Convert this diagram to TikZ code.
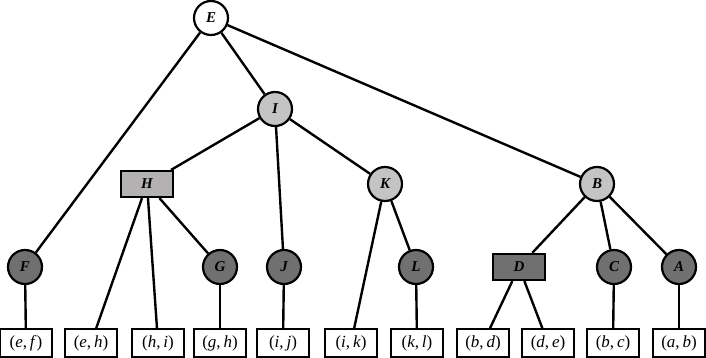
\documentclass[tikz,border=0pt]{standalone}
\usepackage{fontspec}
\setmainfont{Liberation Serif}
\usepackage{tikz}
\definecolor{litegray}{HTML}{C4C4C4}
\definecolor{boxgray}{HTML}{B3B1B1}
\definecolor{darkgray}{HTML}{707070}
\tikzset{
  treenode/.style = {circle,draw,line width=2.2pt,minimum size=34pt,inner sep=0pt,
                     font=\fontsize{15}{17}\selectfont\bfseries\itshape},
  rootnode/.style = {treenode,fill=white},
  litenode/.style = {treenode,fill=litegray},
  darknode/.style = {treenode,fill=darkgray},
  treebox/.style  = {rectangle,draw,line width=2.2pt,minimum width=52pt,minimum height=26pt,
                     inner sep=0pt,font=\fontsize{15}{17}\selectfont\bfseries\itshape},
  leafbox/.style  = {rectangle,draw,line width=1.6pt,minimum width=52pt,minimum height=28pt,
                     inner sep=0pt,fill=white,font=\fontsize{17}{19}\selectfont},
  treeedge/.style = {line width=2.4pt}
}
\newcommand{\pair}[2]{(\textit{#1},\,\textit{#2}\/)}

\begin{document}
\begin{tikzpicture}[x=1pt,y=-1pt]
  \useasboundingbox (0,0) rectangle (706,358);
  % inner nodes
  \node[rootnode] (E) at (211,18)  {E};
  \node[litenode] (I) at (275,109) {I};
  \node[treebox,fill=boxgray] (H) at (147,184) {H};
  \node[litenode] (K) at (385,184) {K};
  \node[litenode] (B) at (597,184) {B};
  \node[darknode] (F) at (25,267)  {F};
  \node[darknode] (G) at (220,267) {G};
  \node[darknode] (J) at (284,267) {J};
  \node[darknode] (L) at (416,267) {L};
  \node[treebox,fill=darkgray] (D) at (519,267) {D};
  \node[darknode] (C) at (614,267) {C};
  \node[darknode] (A) at (679,267) {A};
  % leaves
  \node[leafbox] (ef) at (26,343)  {\pair{e}{f}};
  \node[leafbox] (eh) at (91,343)  {\pair{e}{h}};
  \node[leafbox] (hi) at (158,343) {\pair{h}{i}};
  \node[leafbox] (gh) at (220,343) {\pair{g}{h}};
  \node[leafbox] (ij) at (283,343) {\pair{i}{j}};
  \node[leafbox] (ik) at (351,343) {\pair{i}{k}};
  \node[leafbox] (kl) at (417,343) {\pair{k}{l}};
  \node[leafbox] (bd) at (483,343) {\pair{b}{d}};
  \node[leafbox] (de) at (548,343) {\pair{d}{e}};
  \node[leafbox] (bc) at (613,343) {\pair{b}{c}};
  \node[leafbox] (ab) at (679,343) {\pair{a}{b}};
  % edges
  \draw[treeedge] (E) -- (F);
  \draw[treeedge] (E) -- (I);
  \draw[treeedge] (E) -- (B);
  \draw[treeedge] (I) -- (H);
  \draw[treeedge] (I) -- (J);
  \draw[treeedge] (I) -- (K);
  \draw[treeedge] (H) -- (eh);
  \draw[treeedge] (H) -- (hi);
  \draw[treeedge] (H) -- (G);
  \draw[treeedge] (K) -- (ik);
  \draw[treeedge] (K) -- (L);
  \draw[treeedge] (B) -- (D);
  \draw[treeedge] (B) -- (C);
  \draw[treeedge] (B) -- (A);
  \draw[treeedge] (F) -- (ef);
  \draw[treeedge] (G) -- (gh);
  \draw[treeedge] (J) -- (ij);
  \draw[treeedge] (L) -- (kl);
  \draw[treeedge] (D) -- (bd);
  \draw[treeedge] (D) -- (de);
  \draw[treeedge] (C) -- (bc);
  \draw[treeedge] (A) -- (ab);
\end{tikzpicture}
\end{document}
